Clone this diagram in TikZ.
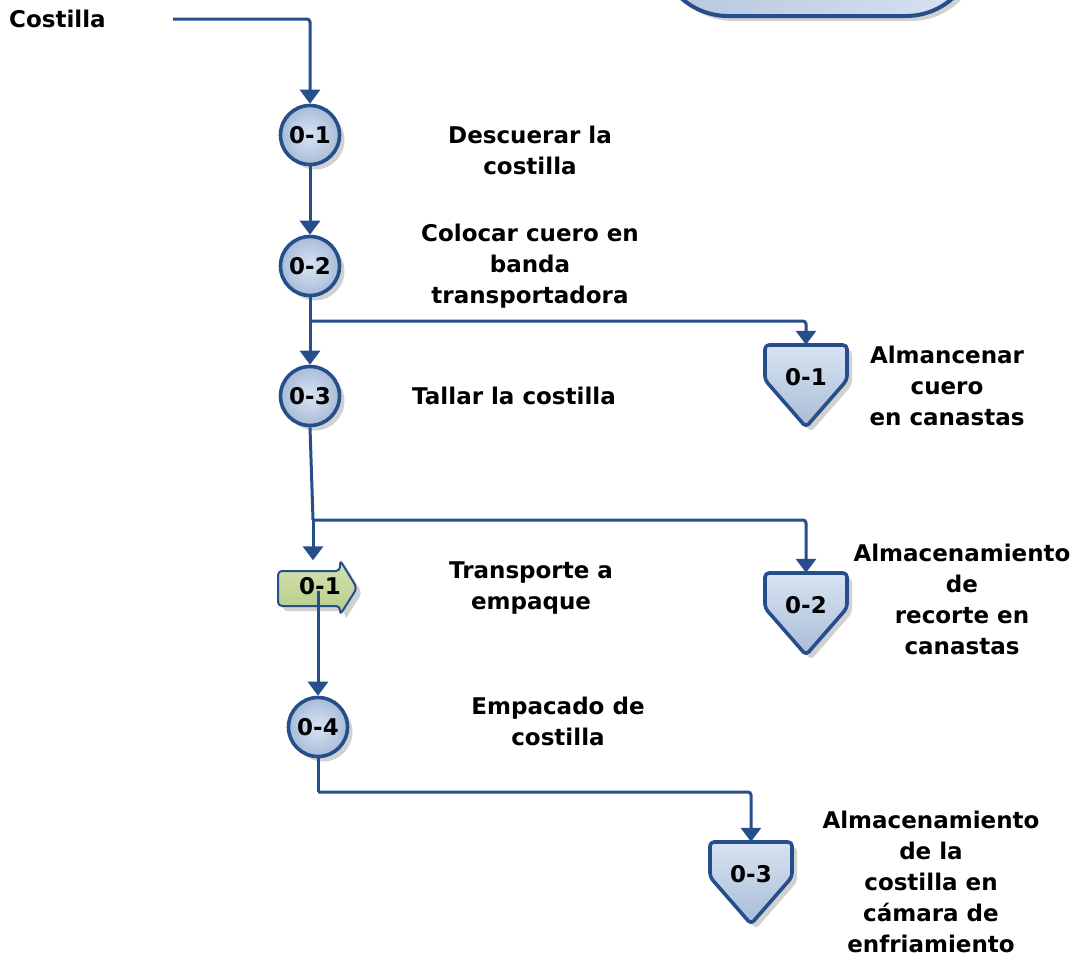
\documentclass[tikz,border=0pt]{standalone}
\usepackage{fontspec}
\setmainfont{DejaVu Sans}
\usetikzlibrary{arrows.meta,shadows,calc}

\definecolor{flowblue}{RGB}{38,78,138}
\definecolor{fillhi}{RGB}{216,227,242}
\definecolor{filllo}{RGB}{168,188,216}
\definecolor{greenhi}{RGB}{214,226,176}
\definecolor{greenlo}{RGB}{182,204,138}

\newcommand\labelfont{\fontsize{23}{31}\selectfont\bfseries}

\tikzset{
  softshadow/.style={drop shadow={shadow xshift=5pt, shadow yshift=-5pt, fill=black, opacity=.18}},
  flow/.style={draw=flowblue, line width=3pt, rounded corners=3pt,
    -{Triangle[width=20pt,length=14pt]}},
  opcircle/.style={circle, minimum size=59pt, inner sep=0pt, draw=flowblue, line width=3.6pt,
    inner color=fillhi, outer color=filllo, font=\labelfont, softshadow},
  storeframe/.style={rectangle, minimum width=82pt, minimum height=82pt, inner sep=0pt},
  storeline/.style={draw=flowblue, line width=3.6pt, rounded corners=4pt, line join=round,
    top color=fillhi, bottom color=filllo, softshadow},
  boxtext/.style={font=\labelfont, inner sep=0pt},
  note/.style={font=\labelfont, align=center, inner sep=0pt},
  moveframe/.style={rectangle, minimum width=79pt, minimum height=55pt, inner sep=0pt},
  moveline/.style={draw=flowblue, line width=2pt, rounded corners=4pt, line join=round,
    top color=greenhi, bottom color=greenlo, softshadow},
  topbox/.style={rectangle, rounded corners=70pt, minimum width=318pt, minimum height=126pt,
    draw=flowblue, line width=4pt, left color=filllo!85, right color=fillhi, softshadow}
}

% storage symbol: #1 x, #2 y of centre, #3 name, #4 number
\newcommand\storagebox[4]{%
  \node[storeframe] (#3) at (#1,#2) {};
  \path[storeline] ({#1-41},{#2-41}) -- ({#1+41},{#2-41}) -- ({#1+41},{#2-6})
    -- (#1,{#2+41}) -- ({#1-41},{#2-6}) -- cycle;
  \node[boxtext] (#3-t) at (#1,{#2-9}) {#4};
}

\begin{document}
\begin{tikzpicture}[x=1pt, y=-1pt]
  \useasboundingbox (0,0) rectangle (1082,962);

  % top terminal (cut by the page edge)
  \node[topbox] (start) at (817,-47) {};

  % operations
  \node[opcircle] (o1) at (310,135) {0-1};
  \node[opcircle] (o2) at (310,266) {0-2};
  \node[opcircle] (o3) at (310,396) {0-3};
  \node[opcircle] (o4) at (318,727) {0-4};

  % transport arrow
  \node[moveframe] (t1) at (317.5,588) {};
  \path[moveline] (278,571) -- (340,571) -- (340,560) -- (357,588)
    -- (340,615) -- (340,606) -- (278,606) -- cycle;

  % storages
  \storagebox{806}{386}{s1}{0-1}
  \storagebox{806}{614}{s2}{0-2}
  \storagebox{751}{883}{s3}{0-3}

  % texts
  \node[font=\labelfont, anchor=west, inner sep=0pt] (in) at (9,19) {Costilla};
  \node[note] (n1) at (530,150) {Descuerar la\\costilla};
  \node[note] (n2) at (530,266) {Colocar cuero en\\banda\\transportadora};
  \node[note] (n3) at (514,396) {Tallar la costilla};
  \node[note] (n4) at (531,588) {Transporte a\\empaque};
  \node[note] (n5) at (558,721) {Empacado de\\costilla};
  \node[note] (n6) at (947,386) {Almancenar\\cuero\\en canastas};
  \node[note] (n7) at (962,599) {Almacenamiento\\de\\recorte en\\canastas};
  \node[note] (n8) at (931,882) {Almacenamiento\\de la\\costilla en\\cámara de\\enfriamiento};

  % junctions
  \coordinate (c0) at (173,19);
  \coordinate (j1) at (310,321);
  \coordinate (j2) at (313,520);
  \coordinate (j3) at (318,792);
  \coordinate (tt) at (318,591);

  % connectors
  \draw[flow] (c0) -| (o1.north);
  \draw[flow] (o1.south) -- (o2.north);
  \draw[flow] (o2.south) -- (o3.north);
  \draw[flow] (j1) -| (s1.north);
  \draw[flow, -] (o3.south) -- (j2);
  \draw[flow] (j2) -| (s2.north);
  \draw[flow] (j2) -- (j2 |- t1.north);
  \draw[flow] (tt) -- (o4.north);
  \node[boxtext] (t1-t) at (320,586) {0-1};
  \draw[flow, -] (o4.south) -- (j3);
  \draw[flow] (j3) -| (s3.north);
\end{tikzpicture}
\end{document}
